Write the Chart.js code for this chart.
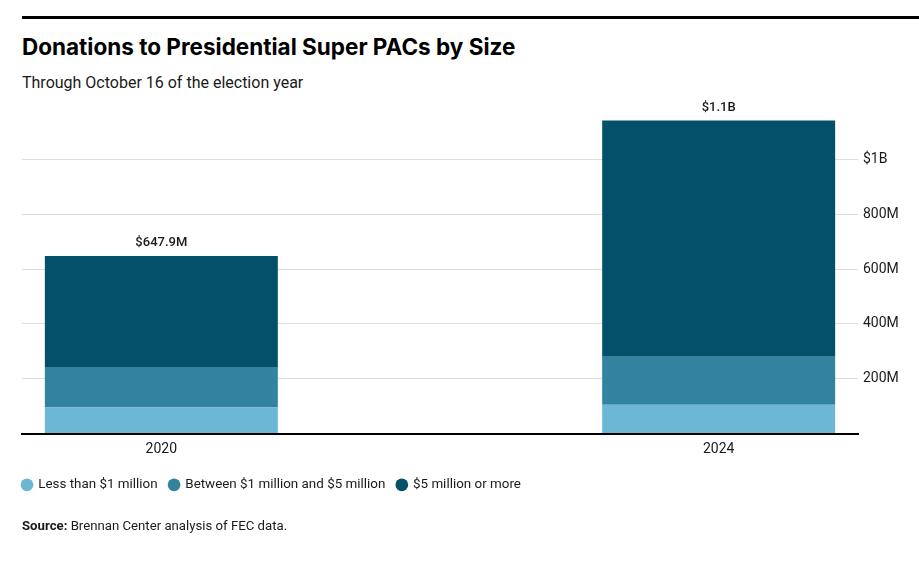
<!DOCTYPE html>
<html>
<head>
<meta charset="utf-8">
<script src="https://cdn.jsdelivr.net/npm/chart.js@4"></script>
<style>
  body { margin: 0; background: #fff; font-family: Roboto, sans-serif; color: #1a1a1a; }
  #wrap { position: relative; width: 919px; height: 572px; overflow: hidden; }
  #rule { position: absolute; left: 22px; right: 0; top: 16px; height: 3px; background: #000; }
  h1 { position: absolute; left: 22px; top: 33px; margin: 0; font-family: Inter, Roboto, sans-serif; font-size: 22.5px; font-weight: 700; color: #000; white-space: nowrap; }
  .sub { position: absolute; left: 22px; top: 73px; font-size: 16px; white-space: nowrap; }
  .src { position: absolute; left: 22px; top: 518px; font-size: 13.2px; white-space: nowrap; }
  canvas { position: absolute; left: 0; top: 0; }
</style>
</head>
<body>
<div id="wrap">
  <div id="rule"></div>
  <h1>Donations to Presidential Super PACs by Size</h1>
  <div class="sub">Through October 16 of the election year</div>
  <canvas id="myChart" width="919" height="572"></canvas>
  <div class="src"><b>Source:</b> Brennan Center analysis of FEC data.</div>
</div>
<script>
const years = ["2020", "2024"];
const seriesNames = ["Less than $1 million", "Between $1 million and $5 million", "$5 million or more"];
// millions of dollars
const lessThan1M = [95, 105];
const between1And5M = [145, 175];
const fiveMOrMore = [407.9, 862];
const totalLabels = ["$647.9M", "$1.1B"];
const yTicks = [0, 200, 400, 600, 800, 1000];
const colors = ["#6cb8d4", "#31839e", "#02506a"];

const seriesValues = [lessThan1M, between1And5M, fiveMOrMore];

// labels above each stacked bar
const totalsPlugin = {
  id: "totals",
  afterDatasetsDraw(chart) {
    const { ctx, scales } = chart;
    ctx.save();
    ctx.font = "500 13px Roboto";
    ctx.fillStyle = "#1a1a1a";
    ctx.textAlign = "center";
    ctx.textBaseline = "middle";
    years.forEach((yr, i) => {
      const total = seriesValues.reduce((s, arr) => s + arr[i], 0);
      const x = scales.x.getPixelForValue(i);
      const y = scales.y.getPixelForValue(total);
      ctx.fillText(totalLabels[i], x, y - 13);
    });
    ctx.restore();
  },
};

// pull legend to the left edge like the original
const legendShift = {
  id: "legendShift",
  afterLayout(chart) {
    chart.legend.left -= 11.5;
    chart.legend.right -= 11.5;
  },
};

const ctx = document.getElementById("myChart");
const donationsChart = new Chart(ctx, {
  type: "bar",
  data: {
    datasets: seriesNames.map((name, k) => ({
      label: name,
      data: years.map((yr, i) => ({ x: i, y: seriesValues[k][i] })),
      backgroundColor: colors[k],
      borderWidth: 0,
      categoryPercentage: 1,
      barPercentage: 0.418,
    })),
  },
  options: {
    responsive: false,
    animation: false,
    layout: { padding: { top: 110, left: 22, right: 0, bottom: 70.5 } },
    plugins: {
      tooltip: { enabled: false },
      legend: {
        position: "bottom",
        align: "start",
        labels: {
          usePointStyle: true,
          pointStyle: "circle",
          boxWidth: 9,
          boxHeight: 9,
          padding: 12,
          color: "#1a1a1a",
          font: { family: "Roboto", size: 13.4 },
        },
      },
    },
    scales: {
      x: {
        type: "linear",
        offset: false,
        stacked: true,
        min: -0.25,
        max: 1.25,
        afterBuildTicks: (s) => { s.ticks = years.map((yr, i) => ({ value: i })); },
        afterFit: (s) => { s.height = 32.5; },
        grid: { display: false, drawTicks: false },
        border: { color: "#000", width: 2 },
        ticks: {
          padding: 7,
          color: "#1a1a1a",
          font: { family: "Roboto", size: 14 },
          callback: (v) => years[v],
        },
      },
      y: {
        position: "right",
        stacked: true,
        min: 0,
        max: 1180,
        afterBuildTicks: (s) => { s.ticks = yTicks.map((v) => ({ value: v })); },
        afterFit: (s) => { s.width = 61; },
        grid: { color: "#dddddd", drawTicks: false },
        border: { display: false },
        ticks: {
          padding: 5,
          color: "#1a1a1a",
          font: { family: "Roboto", size: 14 },
          callback: (v) => (v === 0 ? "" : v === 1000 ? "$1B" : v + "M"),
        },
      },
    },
  },
  plugins: [totalsPlugin, legendShift],
});
</script>
</body>
</html>
